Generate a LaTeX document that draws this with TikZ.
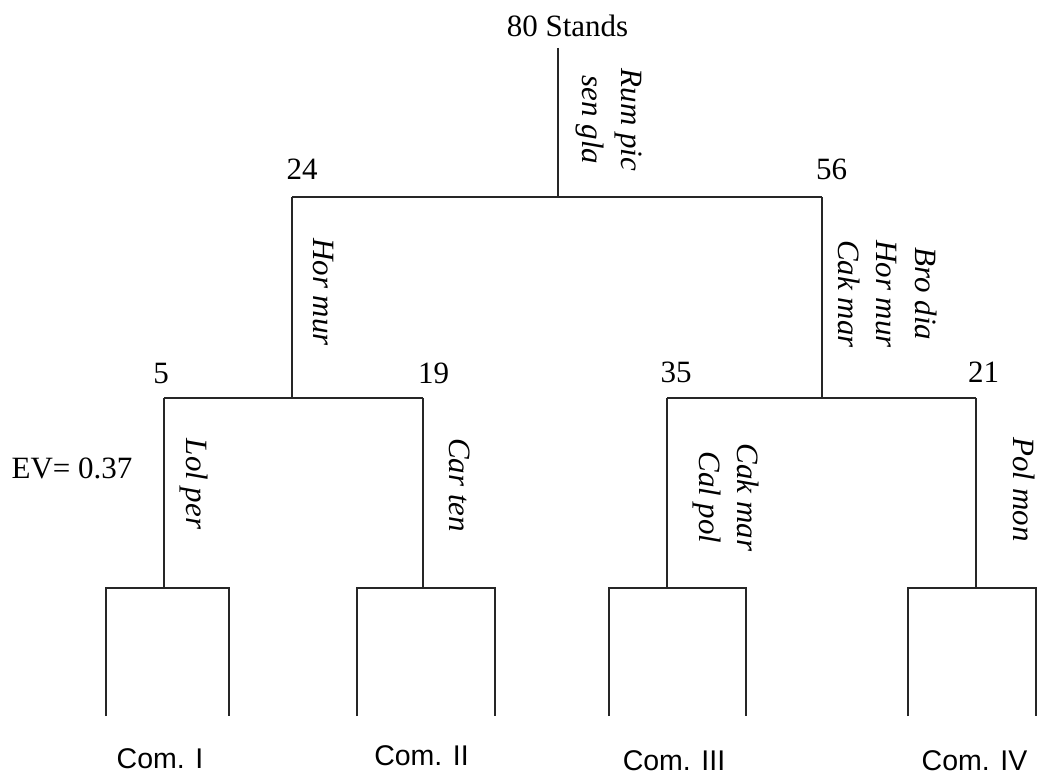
\documentclass[tikz,border=0pt]{standalone}
\usepackage{fontspec}
\setmainfont{Liberation Serif}
\newfontfamily\comfont{Liberation Sans}
\begin{document}
\begin{tikzpicture}[x=1pt,y=1pt,
  tree/.style={line width=1.3pt, line join=miter, draw=black!85},
  count/.style={font=\fontsize{31}{38}\selectfont, anchor=base, inner sep=0pt},
  taxa/.style={font=\fontsize{31}{38.5}\selectfont\itshape, rotate=-90, align=center, inner sep=0pt},
  comlabel/.style={font=\comfont\fontsize{28.5}{34}\selectfont, anchor=base, inner sep=0pt}]
\useasboundingbox (0,0) rectangle (1037,-775);

% junctions of the tree
\coordinate (top) at (558,-48);
\coordinate (n80) at (558,-197);
\coordinate (n24) at (292,-197);
\coordinate (n56) at (822,-197);
\coordinate (s24) at (292,-398);
\coordinate (s56) at (822,-398);
\coordinate (n5)  at (164,-398);
\coordinate (n19) at (423,-398);
\coordinate (n35) at (667,-398);
\coordinate (n21) at (976,-398);
\coordinate (l1) at (164,-588);
\coordinate (l2) at (423,-588);
\coordinate (l3) at (667,-588);
\coordinate (l4) at (976,-588);
% open boxes of the four communities
\coordinate (b1l) at (106,-716); \coordinate (b1r) at (229,-716);
\coordinate (b2l) at (357,-716); \coordinate (b2r) at (495,-716);
\coordinate (b3l) at (609,-716); \coordinate (b3r) at (746,-716);
\coordinate (b4l) at (908,-716); \coordinate (b4r) at (1036,-716);

% branches
\draw[tree] (top) -- (n80);
\draw[tree] (n24) -- (n56);
\draw[tree] (n24) -- (s24);
\draw[tree] (n56) -- (s56);
\draw[tree] (n5) -- (n19);
\draw[tree] (n35) -- (n21);
\draw[tree] (n5) -- (l1);
\draw[tree] (n19) -- (l2);
\draw[tree] (n35) -- (l3);
\draw[tree] (n21) -- (l4);
\draw[tree] (b1l) |- (l1) -| (b1r);
\draw[tree] (b2l) |- (l2) -| (b2r);
\draw[tree] (b3l) |- (l3) -| (b3r);
\draw[tree] (b4l) |- (l4) -| (b4r);

% stand counts
\node[count] (c80) at (567.5,-36.5) {80 Stands};
\node[count] (c24) at (302,-180) {24};
\node[count] (c56) at (831.5,-180) {56};
\node[count] (c5)  at (161,-383.5) {5};
\node[count] (c19) at (433.5,-383.5) {19};
\node[count] (c35) at (676,-383) {35};
\node[count] (c21) at (983.5,-383) {21};
\node[count] (ev)  at (72,-479) {EV= 0.37};

% indicator species
\node[taxa] (t80) at (609,-120) {Rum pic\\sen gla};
\node[taxa] (t24) at (323,-292) {Hor mur};
\node[taxa] (t56) at (887.5,-294) {Bro dia\\Hor mur\\Cak mar};
\node[taxa] (t5)  at (194,-484) {Lol per};
\node[taxa] (t19) at (460,-485) {Car ten};
\node[taxa] (t35) at (726,-497.5) {Cak mar\\Cal pol};
\node[taxa] (t21) at (1024.5,-489.5) {Pol mon};

% community names
\node[comlabel] (com1) at (160,-768.5) {Com. I};
\node[comlabel] (com2) at (421.5,-765) {Com. II};
\node[comlabel] (com3) at (674,-770) {Com. III};
\node[comlabel] (com4) at (974.5,-770) {Com. IV};
\end{tikzpicture}
\end{document}
